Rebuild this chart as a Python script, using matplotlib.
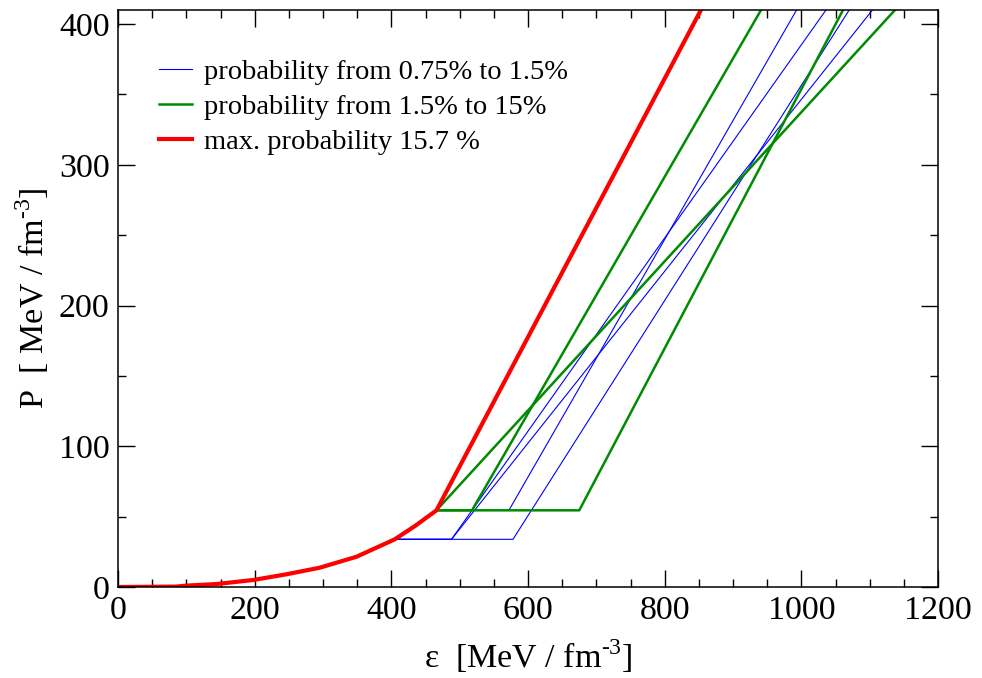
import matplotlib
matplotlib.use("Agg")
import matplotlib.pyplot as plt
from matplotlib.ticker import MultipleLocator

plt.rcParams['font.family'] = ['Liberation Serif', 'DejaVu Serif']
plt.rcParams['mathtext.fontset'] = 'custom'
plt.rcParams['mathtext.rm'] = 'Liberation Serif'

# low density part (common to every curve)
crust_eps = [0, 85, 100, 144, 198, 246, 295, 349, 405, 435, 466]
crust_p = [0, 0.3, 1.0, 2.1, 5.0, 9.0, 13.7, 21.5, 33.9, 43.5, 54.5]

p_top = 410

# each curve: transition pressure, eps where the flat part starts / ends, eps at P = p_top
blue_pt = [33.9, 33.9, 33.9, 54.5]
blue_start = [405, 405, 405, 466]
blue_end = [488, 488, 578, 572]
blue_top = [1104, 1036, 1070, 993]

green_pt = [54.5, 54.5, 54.5]
green_start = [466, 466, 466]
green_end = [466, 518, 675]
green_top = [1137, 941, 1061]

red_pt = 54.5
red_start = 466
red_end = 466
red_top = 853


def eos(pt, e0, e1, etop):
    e = [x for x in crust_eps if x < e0]
    p = crust_p[:len(e)]
    return e + [e0, e1, etop], p + [pt, pt, p_top]


fig = plt.figure(figsize=(9.82, 6.78), dpi=100)
ax = fig.add_axes([0.1202, 0.1342, 0.8350, 0.8510])

for i in range(len(blue_pt)):
    e, p = eos(blue_pt[i], blue_start[i], blue_end[i], blue_top[i])
    ax.plot(e, p, color='#0000ff', lw=0.8,
            label='probability from 0.75% to 1.5%' if i == 0 else None)

for i in range(len(green_pt)):
    e, p = eos(green_pt[i], green_start[i], green_end[i], green_top[i])
    ax.plot(e, p, color='#008c00', lw=1.8,
            label='probability from 1.5% to 15%' if i == 0 else None)

e, p = eos(red_pt, red_start, red_end, red_top)
ax.plot(e, p, color='#ff0000', lw=3.0, label='max. probability 15.7 %')

ax.set_xlim(0, 1200)
ax.set_ylim(0, p_top)
ax.xaxis.set_major_locator(MultipleLocator(200))
ax.xaxis.set_minor_locator(MultipleLocator(50))
ax.yaxis.set_major_locator(MultipleLocator(100))
ax.yaxis.set_minor_locator(MultipleLocator(50))
ax.tick_params(which='both', direction='in', top=True, right=True,
               labelsize=24.5, width=1.0)
ax.tick_params(which='major', length=12, pad=6)
ax.tick_params(which='minor', length=5.5)
for s in ax.spines.values():
    s.set_linewidth(1.1)

ax.set_xlabel('ε  [MeV / fm$^{\\mathregular{\u20103}}$]', fontsize=24.5, labelpad=8)
ax.set_ylabel('P  [ MeV / fm$^{\\mathregular{\u20103}}$]', fontsize=24.5, labelpad=6)

ax.legend(loc='upper left', bbox_to_anchor=(0.05, 0.915), frameon=False,
          fontsize=20.5, handlelength=1.15, handletextpad=0.42,
          labelspacing=0.31, borderaxespad=0, borderpad=0)

fig.savefig('out.png', dpi=100)
